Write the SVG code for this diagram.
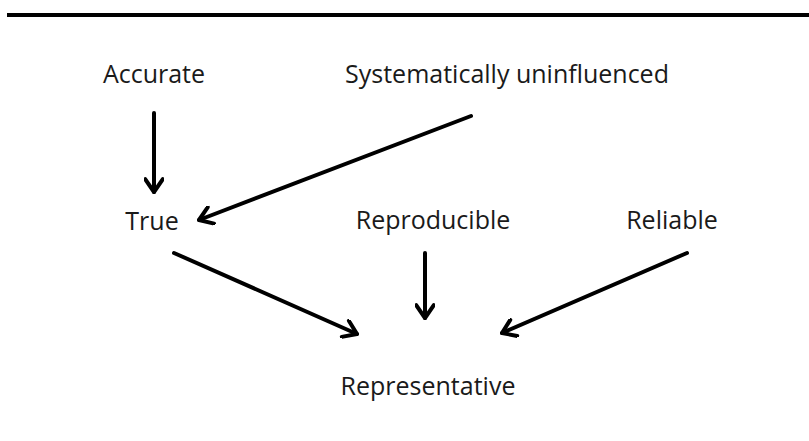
<svg xmlns="http://www.w3.org/2000/svg" width="809" height="441" viewBox="0 0 809 441">
<defs>
<style>
text{font-family:"Open Sans","Liberation Sans",sans-serif;font-size:25px;fill:#1a1a1a;text-anchor:middle}
.c{stroke:#000;stroke-width:4;fill:none;stroke-linecap:round}
</style>
<marker id="ah" viewBox="0 0 10 10" refX="9" refY="5" markerWidth="5" markerHeight="5" orient="auto" markerUnits="strokeWidth">
<path d="M2.6,0.6 L9,5 L2.6,9.4" fill="none" stroke="#000" stroke-width="2" stroke-linecap="round" stroke-linejoin="round"/>
</marker>
</defs>
<rect width="809" height="441" fill="#fff"/>
<rect x="7" y="13" width="802" height="4" fill="#000"/>
<g id="accurate"><text x="154" y="83">Accurate</text></g>
<g id="systematically"><text x="507" y="83">Systematically uninfluenced</text></g>
<g id="true"><text x="152" y="230">True</text></g>
<g id="reproducible"><text x="433" y="229">Reproducible</text></g>
<g id="reliable"><text x="672" y="229">Reliable</text></g>
<g id="representative"><text x="428" y="395">Representative</text></g>
<g id="connectors">
<line class="c" x1="154" y1="113" x2="154" y2="192" marker-end="url(#ah)"/>
<line class="c" x1="471" y1="116" x2="199" y2="220" marker-end="url(#ah)"/>
<line class="c" x1="174" y1="253" x2="357" y2="334" marker-end="url(#ah)"/>
<line class="c" x1="425" y1="253" x2="425" y2="318" marker-end="url(#ah)"/>
<line class="c" x1="687" y1="253" x2="502" y2="333" marker-end="url(#ah)"/>
</g>
</svg>
